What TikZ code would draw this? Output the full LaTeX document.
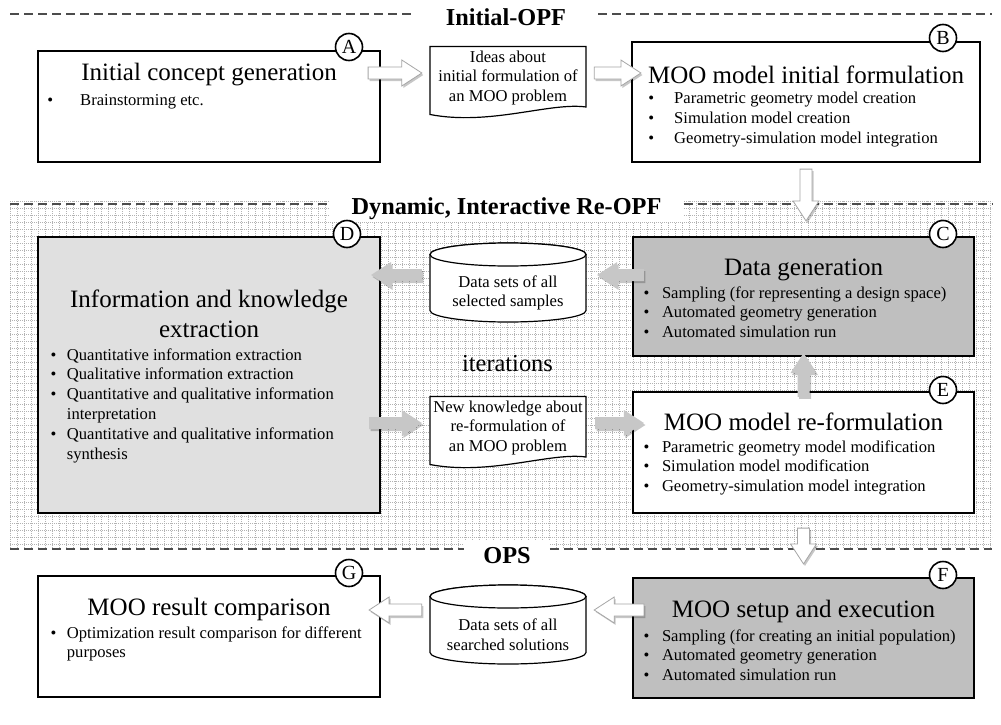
\documentclass[tikz,border=0pt]{standalone}
\usepackage{fontspec}
\setmainfont{Liberation Serif}
\usetikzlibrary{calc,shadows}

% font sizes (1pt = 1 unit of the drawing)
\newcommand{\ttlsize}{\fontsize{25}{30}\selectfont}
\newcommand{\bodysize}{\fontsize{16.6}{19.8}\selectfont}
\newcommand{\hdrsize}{\bfseries\fontsize{24.3}{28}\selectfont}
\newcommand{\itersize}{\fontsize{24.4}{28}\selectfont}
\newcommand{\lblsize}{\fontsize{20}{22}\selectfont}

% bullet list: #1 = indent of the text, #2 = rows "\textbullet & text \\ ..."
\newcommand{\bitemlist}[2]{\begin{tabular}[t]{@{}p{#1}@{}l@{}}#2\end{tabular}}

% block arrow from #2 to #3, drawn with style #1
\newcommand{\blkarrow}[3]{%
  \coordinate (ba-s) at #2;
  \coordinate (ba-t) at #3;
  \coordinate (ba-h) at ($(ba-t)!20pt!(ba-s)$);
  \path[#1] ($(ba-s)!6pt!90:(ba-t)$) -- ($(ba-h)!6pt!-90:(ba-s)$)
    -- ($(ba-h)!13pt!-90:(ba-s)$) -- (ba-t) -- ($(ba-h)!13pt!90:(ba-s)$)
    -- ($(ba-h)!6pt!90:(ba-s)$) -- ($(ba-s)!6pt!-90:(ba-t)$) -- cycle;
}

% document outline with a wavy lower edge around point #1
\newcommand{\docshape}[1]{%
  \draw[docline] ($(#1)+(-78,-31.5)$) -- ($(#1)+(78,-31.5)$) -- ($(#1)+(78,29)$)
    .. controls ($(#1)+(42,24)$) and ($(#1)+(-18,48)$) .. ($(#1)+(-78,36.5)$) -- cycle;
}

% data store cylinder around point #1
\newcommand{\cylshape}[1]{%
  \draw[docline] ($(#1)+(-78,-38.5)$) -- ($(#1)+(-78,17.5)$)
    arc[start angle=180, end angle=360, x radius=78pt, y radius=11.5pt]
    -- ($(#1)+(78,-38.5)$)
    arc[start angle=0, end angle=180, x radius=78pt, y radius=11.5pt] -- cycle;
  \draw[docline] ($(#1)+(0,-38.5)$) ellipse [x radius=78pt, y radius=11.5pt];
}

\tikzset{
  box/.style={draw, line width=2.2pt, inner sep=0pt},
  plainbox/.style={box, fill=white},
  darkbox/.style={box, fill=black!25},
  lightbox/.style={box, fill=black!12},
  ttl/.style={font=\ttlsize, inner sep=0pt, anchor=base},
  items/.style={font=\bodysize, inner sep=0pt, anchor=base west},
  txt/.style={font=\bodysize, align=center, inner sep=0pt, minimum width=156pt},
  docline/.style={draw, fill=white, line width=1.2pt},
  hdr/.style={font=\hdrsize, anchor=base},
  sepline/.style={line width=1.1pt, black!70, dash pattern=on 9pt off 5pt},
  gridline/.style={line width=0.35pt, black!30, dash pattern=on 0.8pt off 1.2pt},
  lbl/.style={circle, draw, fill=white, line width=1.6pt, minimum size=27pt,
    inner sep=0pt, font=\lblsize},
  arrowshadow/.style={drop shadow={shadow xshift=1.5pt, shadow yshift=-2pt,
    fill=black, opacity=0.22}},
  whitearrow/.style={arrowshadow, fill=white, draw=black!35, line width=0.8pt},
  grayarrow/.style={arrowshadow, fill=black!22},
}

\begin{document}
\begin{tikzpicture}[x=1pt,y=-1pt]
\useasboundingbox (0,0) rectangle (1001,725);
\fill[white] (0,0) rectangle (1001,725);

% dotted grid behind the dynamic re-formulation stage
\draw[gridline] foreach \gx in {10,17,...,992} {(\gx,201) -- (\gx,548)};
\draw[gridline] foreach \gy in {201,208,...,548} {(10,\gy) -- (992,\gy)};

% stage headings with dashed separators
\node[hdr, inner xsep=32pt] (h1) at (506,26) {Initial-OPF};
\draw[sepline] (10,14) -- (h1.west |- 0,14);
\draw[sepline] (h1.east |- 0,14) -- (992,14);

\node[hdr, fill=white, inner xsep=22pt, text height=17pt, text depth=5pt, inner ysep=3pt]
  (h2) at (506.5,214) {Dynamic, Interactive Re-OPF};
\draw[sepline] (10,204) -- (h2.west |- 0,204);
\draw[sepline] (h2.east |- 0,204) -- (992,204);

\node[hdr, fill=white, inner xsep=19pt, text height=17pt, text depth=5pt, inner ysep=6pt]
  (h3) at (507,563) {OPS};
\draw[sepline] (10,549) -- (h3.west |- 0,549);
\draw[sepline] (h3.east |- 0,549) -- (992,549);

% process boxes
\node[plainbox, minimum width=342pt, minimum height=111pt] (A) at (209,106.5) {};
\node[plainbox, minimum width=348pt, minimum height=120pt] (B) at (806,102) {};
\node[darkbox,  minimum width=341pt, minimum height=119pt] (C) at (803.5,296.5) {};
\node[lightbox, minimum width=342pt, minimum height=276pt] (D) at (209,375) {};
\node[plainbox, minimum width=341pt, minimum height=121pt] (E) at (803.5,452.5) {};
\node[darkbox,  minimum width=341pt, minimum height=120pt] (F) at (803.5,638) {};
\node[plainbox, minimum width=342pt, minimum height=121pt] (G) at (209,636.5) {};

% box contents
\node[ttl] (At) at (209,81) {Initial concept generation};
\node[items] (Al) at (47.1,105) {\bitemlist{32.9pt}{\textbullet & Brainstorming etc.}};

\node[ttl] (Bt) at (806,84) {MOO model initial formulation};
\node[items] (Bl) at (648.1,103.5) {\bitemlist{25.9pt}{%
  \textbullet & Parametric geometry model creation\\
  \textbullet & Simulation model creation\\
  \textbullet & Geometry-simulation model integration}};

\node[ttl] (Ct) at (803.5,275) {Data generation};
\node[items] (Cl) at (643.3,298) {\bitemlist{18.5pt}{%
  \textbullet & Sampling (for representing a design space)\\
  \textbullet & Automated geometry generation\\
  \textbullet & Automated simulation run}};

\node[ttl] (Dt) at (209,307) {\begin{tabular}[t]{@{}c@{}}Information and knowledge\\ extraction\end{tabular}};
\node[items] (Dl) at (50.4,360) {\bitemlist{16.3pt}{%
  \textbullet & Quantitative information extraction\\
  \textbullet & Qualitative information extraction\\
  \textbullet & Quantitative and qualitative information\\
              & interpretation\\
  \textbullet & Quantitative and qualitative information\\
              & synthesis}};

\node[ttl] (Et) at (803.5,430) {MOO model re-formulation};
\node[items] (El) at (643.3,452) {\bitemlist{18.5pt}{%
  \textbullet & Parametric geometry model modification\\
  \textbullet & Simulation model modification\\
  \textbullet & Geometry-simulation model integration}};

\node[ttl] (Ft) at (803.5,617) {MOO setup and execution};
\node[items] (Fl) at (643.3,641) {\bitemlist{18.5pt}{%
  \textbullet & Sampling (for creating an initial population)\\
  \textbullet & Automated geometry generation\\
  \textbullet & Automated simulation run}};

\node[ttl] (Gt) at (209,615) {MOO result comparison};
\node[items] (Gl) at (50.4,638) {\bitemlist{16.3pt}{%
  \textbullet & Optimization result comparison for different\\
              & purposes}};

% documents and data stores: outline first, then the text on top
\coordinate (d1) at (508,78);
\coordinate (d2) at (508,428);
\coordinate (s1) at (508,293);
\coordinate (s2) at (508,635);
\docshape{d1}
\docshape{d2}
\cylshape{s1}
\cylshape{s2}
\node[txt] (doc1) at (d1) {Ideas about\\initial formulation of\\an MOO problem};
\node[txt] (doc2) at (d2) {New knowledge about\\re-formulation of\\an MOO problem};
\node[txt] (cyl1) at (s1) {Data sets of all\\selected samples};
\node[txt] (cyl2) at (s2) {Data sets of all\\searched solutions};

\node[font=\itersize, inner sep=0pt, anchor=base] (iter) at (507.5,371) {iterations};

% flow arrows
\coordinate (a1t) at ($(doc1.west)+(-8,-5)$);
\blkarrow{whitearrow}{($(A.east |- a1t)+(-13,0)$)}{(a1t)}
\coordinate (a2s) at ($(doc1.east)+(8,-5)$);
\blkarrow{whitearrow}{(a2s)}{($(B.west |- a2s)+(10,0)$)}
\blkarrow{whitearrow}{($(B.south)+(0,6)$)}{($(C.north -| B.south)+(0,-15)$)}

\coordinate (a4t) at ($(cyl1.east)+(11,-18)$);
\blkarrow{grayarrow}{($(C.west |- a4t)+(12,0)$)}{(a4t)}
\coordinate (a5s) at ($(cyl1.west)+(-8,-18)$);
\blkarrow{grayarrow}{(a5s)}{($(D.east |- a5s)+(-10,0)$)}
\blkarrow{grayarrow}{($(E.north)+(0,6)$)}{($(C.south)+(0,-4)$)}
\coordinate (a7t) at ($(doc2.west)+(-8,-5)$);
\blkarrow{grayarrow}{($(D.east |- a7t)+(-12,0)$)}{(a7t)}
\coordinate (a8s) at ($(doc2.east)+(9,-5)$);
\blkarrow{grayarrow}{(a8s)}{($(E.west |- a8s)+(12,0)$)}

\blkarrow{whitearrow}{($(E.south)+(0,14)$)}{($(F.north)+(0,-13)$)}
\coordinate (a10t) at ($(cyl2.east)+(8,-25)$);
\blkarrow{whitearrow}{($(F.west |- a10t)+(12,0)$)}{(a10t)}
\coordinate (a11s) at ($(cyl2.west)+(-8,-25)$);
\blkarrow{whitearrow}{(a11s)}{($(G.east |- a11s)+(-12,0)$)}

% step labels
\node[lbl] (lA) at (349,47) {A};
\node[lbl] (lB) at (943,38) {B};
\node[lbl] (lC) at (943,234) {C};
\node[lbl] (lD) at (347,234) {D};
\node[lbl] (lE) at (943,390) {E};
\node[lbl] (lF) at (943,575) {F};
\node[lbl] (lG) at (349,573) {G};
\end{tikzpicture}
\end{document}
